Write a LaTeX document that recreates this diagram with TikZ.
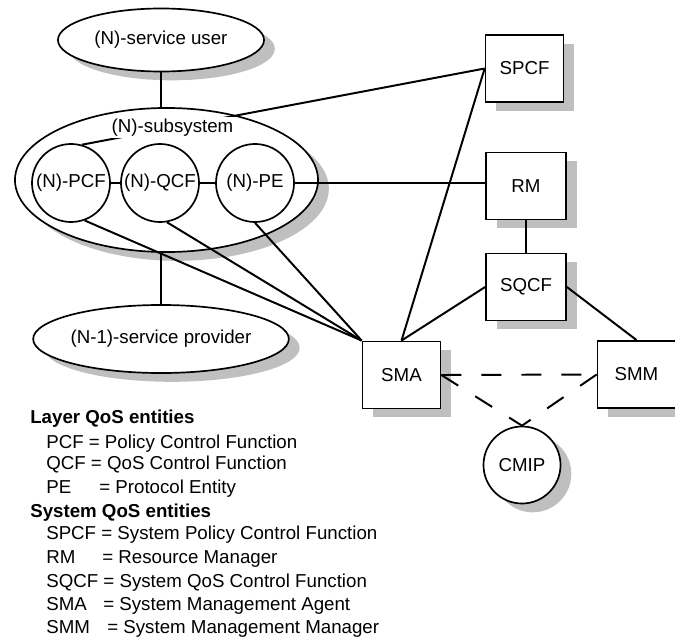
\documentclass[tikz,border=0pt]{standalone}
\usepackage{fontspec}
\setmainfont{Liberation Sans}
\usetikzlibrary{shapes.geometric, shadows}

\begin{document}
\begin{tikzpicture}[x = 0.025cm, y = -0.025cm,
		font = \fontsize{13.3}{16}\selectfont,
		boxshadow/.style = {drop shadow = {shadow xshift = 0.27cm, shadow yshift = -0.22cm, fill = black!25, opacity = 1}},
		oval/.style = {ellipse, draw, fill = white, line width = 1.2pt, inner sep = 0pt, boxshadow},
		entity/.style = {circle, draw, fill = white, line width = 1.2pt, inner sep = 0pt, minimum size = 1.95cm},
		sysbox/.style = {rectangle, draw, fill = white, line width = 1.2pt, minimum width = 1.95cm, minimum height = 1.68cm, boxshadow},
		link/.style = {line width = 1.4pt},
		mgmt/.style = {line width = 1.4pt, dash pattern = on 0.5cm off 0.5cm},
		legend/.style = {anchor = base west, inner sep = 0pt}]
		\useasboundingbox (0,0) rectangle (675,637);
		
		\node [oval, minimum width = 5.15cm, minimum height = 1.575cm] (user) at (161,40) {(N)-service user};
		\node [oval, minimum width = 7.575cm, minimum height = 3.6cm] (subsys) at (166.5,180) {};
		\node [oval, minimum width = 5.2cm, minimum height = 1.7cm] (provider) at (161,339) {(N-1)-service provider};
		
		\node [entity] (pcf) at (71,183) {(N)-PCF};
		\node [entity] (qcf) at (160,183) {(N)-QCF};
		\node [entity] (pe) at (255,183) {(N)-PE};
		
		\node [sysbox] (spcf) at (524.5,68.5) {SPCF};
		\node [sysbox, minimum width = 2cm] (rm) at (526,186) {RM};
		\node [sysbox, minimum width = 2cm] (sqcf) at (526,287) {SQCF};
		\node [sysbox] (sma) at (401.5,375) {SMA};
		\node [sysbox] (smm) at (636.5,374.5) {SMM};
		\node [entity, boxshadow, minimum size = 1.925cm] (cmip) at (522,465) {CMIP};
		
		\draw [link] (user.south) -- (user.south |- subsys.north);
		\draw [link] (provider.north |- subsys.south) -- (provider.north);
		\draw [link] (pcf) -- (qcf);
		\draw [link] (qcf) -- (pe);
		\draw [link] (pe) -- (pe -| rm.west);
		\draw [link] (spcf.west) -- (pcf.74);
		\draw [link] (spcf.west) -- (sma.north);
		\draw [link] (rm) -- (sqcf);
		\draw [link] (sqcf.west) -- (sma.north);
		\draw [link] (sqcf.east) -- (smm.north);
		\draw [link] (pcf.-70) -- (sma.north west);
		\draw [link] (qcf.-80) -- (sma.north west);
		\draw [link] (pe.south) -- (sma.north west);
		
		\draw [mgmt] (sma.east) -- (smm.west);
		\draw [mgmt] (sma.east) -- (cmip.north);
		\draw [mgmt] (smm.west) -- (cmip.north);
		
		\node [fill = white, inner sep = 1pt] (subsyslabel) at (172.5,127.5) {(N)-subsystem};
		
		\node [legend] (layerhead) at (30,423) {\textbf{Layer QoS entities}};
		\node [legend] (pcfkey) at (46,448) {PCF = Policy Control Function};
		\node [legend] (qcfkey) at (46,469) {QCF = QoS Control Function};
		\node [legend] (pekey) at (46,493) {\makebox[1.325cm][l]{PE}= Protocol Entity};
		\node [legend] (syshead) at (30,517) {\textbf{System QoS entities}};
		\node [legend] (spcfkey) at (46,539) {SPCF = System Policy Control Function};
		\node [legend] (rmkey) at (46,563) {\makebox[1.4cm][l]{RM}= Resource Manager};
		\node [legend] (sqcfkey) at (46,587) {SQCF = System QoS Control Function};
		\node [legend] (smakey) at (46,610) {\makebox[1.425cm][l]{SMA}= System Management Agent};
		\node [legend] (smmkey) at (46,633) {\makebox[1.525cm][l]{SMM}= System Management Manager};
	\end{tikzpicture}
\end{document}
